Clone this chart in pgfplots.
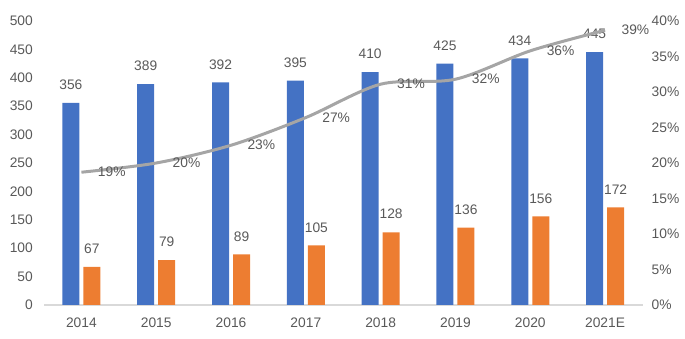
\documentclass[border=0pt]{standalone}
\usepackage{pgfplots}
\pgfplotsset{compat=1.18}
\usepackage{fontspec}
\setmainfont{Liberation Sans}
\definecolor{cblue}{HTML}{4472C4}
\definecolor{corange}{HTML}{ED7D31}
\definecolor{cline}{HTML}{A5A5A5}
\definecolor{ctext}{HTML}{595959}
\definecolor{caxis}{HTML}{D9D9D9}
\begin{document}
\begin{tikzpicture}
\useasboundingbox (0,0) rectangle (685pt,339pt);
\pgfplotsset{
  common/.style={
    at={(44pt,34pt)}, anchor=south west,
    scale only axis, width=598.5pt, height=284pt,
    xmin=-0.5, xmax=7.5,
    font=\fontsize{13.8}{16}\selectfont,
    /pgf/number format/assume math mode=true,
    tick style={draw=none}, major tick length=0pt,
    ticklabel style={text=ctext},
  }
}
\begin{axis}[common,
  ymin=0, ymax=500, ytick={0,50,...,500},
  xtick={0,...,7}, xticklabels={2014,2015,2016,2017,2018,2019,2020,2021E},
  axis x line*=bottom, axis y line*=left,
  x axis line style={draw=caxis, line width=1.5pt},
  y axis line style={draw=none},
  yticklabel style={inner sep=0pt, anchor=east, xshift=-11pt},
  xticklabel style={inner sep=0pt, anchor=north, yshift=-13pt},
  ybar, bar width=17pt,
  nodes near coords,
  every node near coord/.append style={text=ctext, inner sep=0pt, anchor=south, yshift=13pt, font=\fontsize{13.8}{16}\selectfont},
]
\addplot[draw=none, fill=cblue, bar shift=-10.5pt] coordinates {(0,356) (1,389) (2,392) (3,395) (4,410) (5,425) (6,434) (7,445)};
\addplot[draw=none, fill=corange, bar shift=10.5pt] coordinates {(0,67) (1,79) (2,89) (3,105) (4,128) (5,136) (6,156) (7,172)};
\end{axis}
\begin{axis}[common,
  ymin=0, ymax=40, ytick={0,5,...,40},
  yticklabel={\pgfmathprintnumber{\tick}\%},
  axis y line*=right, axis x line=none,
  y axis line style={draw=none},
  yticklabel style={inner sep=0pt, anchor=west, xshift=9pt},
  point meta=explicit symbolic,
  nodes near coords,
  every node near coord/.append style={text=ctext, inner sep=0pt, anchor=west, xshift=15pt, font=\fontsize{13.8}{16}\selectfont},
]
\addplot[cline, line width=3pt, smooth, tension=0.5, mark=none] coordinates {
(0,18.7) [19\%] (1,20.0) [20\%] (2,22.5) [23\%] (3,26.4) [27\%]
(4,31.1) [31\%] (5,31.8) [32\%] (6,35.8) [36\%] (7,38.7) [39\%]};
\end{axis}
\end{tikzpicture}
\end{document}
